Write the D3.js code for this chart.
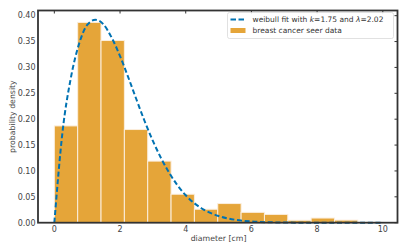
<!DOCTYPE html>
<html>
<head>
<meta charset="utf-8">
<script src="https://cdn.jsdelivr.net/npm/d3@7"></script>
<style>
	body { margin: 0; background: #fff; }
	svg { display: block; font-family: 'DejaVu Sans', sans-serif; }
</style>
</head>
<body>
<div id="chart"></div>
<script>
// histogram: 14 equal bins between 0 and the largest diameter
const binStart = 0
const binEnd = 9.95
const densities = [0.187, 0.387, 0.352, 0.18, 0.119, 0.055, 0.026, 0.037, 0.02, 0.016, 0.0047, 0.009, 0.005, 0.001]

// weibull fit curve
const curveX = [0, 0.25, 0.5, 0.75, 1, 1.25, 1.5, 1.75, 2, 2.25, 2.5, 2.75, 3, 3.5, 4, 4.5, 5, 5.5, 6, 6.5, 7, 8, 9, 10]
const curveY = [0, 0.176, 0.279, 0.345, 0.382, 0.392, 0.383, 0.357, 0.322, 0.281, 0.238, 0.196, 0.158, 0.096, 0.053, 0.027, 0.013, 0.0057, 0.0024, 0.0009, 0.0003, 0, 0, 0]

const xTicks = [0, 2, 4, 6, 8, 10]
const yTicks = [0, 0.05, 0.1, 0.15, 0.2, 0.25, 0.3, 0.35, 0.4]

const W = 407, H = 252
const m = { top: 10.5, right: 9.5, bottom: 29.3, left: 38 }

const svg = d3.select('#chart').append('svg').attr('width', W).attr('height', H)

const x = d3.scaleLinear().domain([-0.4975, 10.4475]).range([m.left, W - m.right])
const y = d3.scaleLinear().domain([0, 0.41]).range([H - m.bottom, m.top])

const barColor = '#e5a539'
const lineColor = '#0072b2'
const inkColor = '#333'

// bars
const binW = (binEnd - binStart) / densities.length
svg.append('g')
	.selectAll('rect')
	.data(densities)
	.enter()
	.append('rect')
	.attr('x', (d, i) => x(binStart + i * binW))
	.attr('y', (d) => y(d))
	.attr('width', (d, i) => x(binStart + (i + 1) * binW) - x(binStart + i * binW))
	.attr('height', (d) => y(0) - y(d))
	.attr('fill', barColor)
	.attr('stroke', '#fbeedd')
	.attr('stroke-width', 1)

// fit curve
const line = d3.line()
	.x((d, i) => x(curveX[i]))
	.y((d) => y(d))
	.curve(d3.curveMonotoneX)

svg.append('path')
	.attr('d', line(curveY))
	.attr('fill', 'none')
	.attr('stroke', lineColor)
	.attr('stroke-width', 2)
	.attr('stroke-dasharray', '5,2.7')

// frame
svg.append('rect')
	.attr('x', m.left)
	.attr('y', m.top)
	.attr('width', W - m.right - m.left)
	.attr('height', H - m.bottom - m.top)
	.attr('fill', 'none')
	.attr('stroke', inkColor)
	.attr('stroke-width', 1.8)

// top & right ticks point inward
svg.append('g').selectAll('line').data(xTicks).enter().append('line')
	.attr('x1', (d) => x(d)).attr('x2', (d) => x(d))
	.attr('y1', m.top).attr('y2', m.top + 3)
	.attr('stroke', inkColor).attr('stroke-width', 1)
svg.append('g').selectAll('line').data(yTicks).enter().append('line')
	.attr('x1', W - m.right).attr('x2', W - m.right - 3)
	.attr('y1', (d) => y(d)).attr('y2', (d) => y(d))
	.attr('stroke', inkColor).attr('stroke-width', 1)

// tick labels
svg.append('g').selectAll('text').data(xTicks).enter().append('text')
	.attr('x', (d) => x(d))
	.attr('y', H - m.bottom + 9)
	.attr('text-anchor', 'middle')
	.attr('font-size', 8)
	.attr('fill', '#444')
	.text((d) => d)
svg.append('g').selectAll('text').data(yTicks).enter().append('text')
	.attr('x', m.left - 2.5)
	.attr('y', (d) => y(d))
	.attr('dy', '0.35em')
	.attr('text-anchor', 'end')
	.attr('font-size', 8)
	.attr('fill', '#444')
	.text((d) => d3.format('.2f')(d))

// axis labels
svg.append('text')
	.attr('x', x(5))
	.attr('y', 241)
	.attr('text-anchor', 'middle')
	.attr('font-size', 7.8)
	.attr('fill', '#444')
	.text('diameter [cm]')
svg.append('text')
	.attr('transform', 'translate(15,' + (m.top + H - m.bottom) / 2 + ') rotate(-90)')
	.attr('text-anchor', 'middle')
	.attr('font-size', 7.8)
	.attr('fill', '#444')
	.text('probability density')

// legend
const lg = svg.append('g').attr('transform', 'translate(227.5,12.5)')
lg.append('rect')
	.attr('width', 166).attr('height', 26).attr('rx', 2)
	.attr('fill', '#fff').attr('fill-opacity', 0.85)
	.attr('stroke', '#d9d9d9').attr('stroke-width', 0.8)
lg.append('line')
	.attr('x1', 3).attr('x2', 18).attr('y1', 7).attr('y2', 7)
	.attr('stroke', lineColor).attr('stroke-width', 2).attr('stroke-dasharray', '5.5,2.5')
lg.append('rect')
	.attr('x', 3).attr('y', 15.5).attr('width', 15).attr('height', 5)
	.attr('fill', barColor)
const t1 = lg.append('text').attr('x', 25).attr('y', 7).attr('dy', '0.35em').attr('font-size', 7.5).attr('fill', '#333')
t1.append('tspan').text('weibull fit with ')
t1.append('tspan').attr('font-style', 'italic').text('k')
t1.append('tspan').text('=1.75 and ')
t1.append('tspan').attr('font-style', 'italic').text('λ')
t1.append('tspan').text('=2.02')
lg.append('text').attr('x', 25).attr('y', 18).attr('dy', '0.35em').attr('font-size', 7.5).attr('fill', '#333')
	.text('breast cancer seer data')
</script>
</body>
</html>
